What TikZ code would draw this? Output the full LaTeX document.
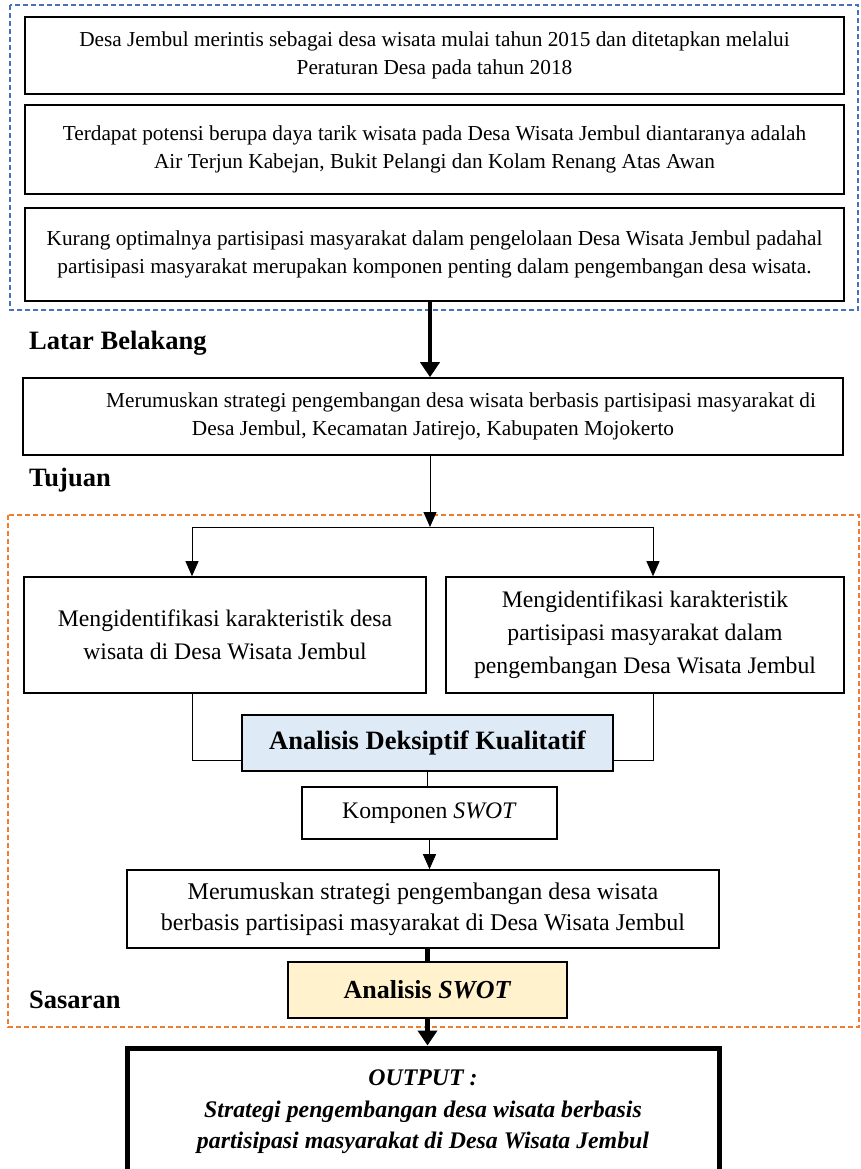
\documentclass[tikz,border=0pt]{standalone}
\usepackage{fontspec}
\setmainfont{Liberation Serif}
\usetikzlibrary{arrows.meta}
\definecolor{frameblue}{HTML}{4472C4}
\definecolor{frameorange}{HTML}{ED7D31}
\definecolor{fillblue}{HTML}{DEEAF6}
\definecolor{fillyellow}{HTML}{FFF2CC}
\begin{document}
\begin{tikzpicture}[x=1pt,y=-1pt,
  box/.style={draw, line width=1.6pt, inner sep=0pt, align=center},
  txtA/.style={font=\fontsize{21.3}{27.5}\selectfont},
  txtB/.style={font=\fontsize{23.7}{33}\selectfont},
  lab/.style={font=\fontsize{26.5}{30}\selectfont\bfseries, anchor=west, inner sep=0pt},
  thin/.style={line width=0.9pt},
  thinarrow/.style={line width=0.9pt, -{Triangle[width=13pt,length=15pt]}},
  thickarrow/.style={line width=4.5pt, -{Triangle[width=19pt,length=15pt]}},
  dashframe/.style={line width=1.8pt, dash pattern=on 5pt off 3pt}
]
\useasboundingbox (0,0) rectangle (861,1169);
% blue frame
\draw[dashframe, frameblue] (10,5) rectangle (858,310);
% orange frame
\draw[dashframe, frameorange] (8,515) rectangle (859,1027);

\node[box, txtA, minimum width=819pt, minimum height=77pt] (b1) at (434.5,55.5)
  {Desa Jembul merintis sebagai desa wisata mulai tahun 2015 dan ditetapkan melalui\\Peraturan Desa pada tahun 2018};
\node[box, txtA, minimum width=819pt, minimum height=89pt] (b2) at (434.5,149.5)
  {Terdapat potensi berupa daya tarik wisata pada Desa Wisata Jembul diantaranya adalah\\Air Terjun Kabejan, Bukit Pelangi dan Kolam Renang Atas Awan};
\node[box, txtA, minimum width=819pt, minimum height=93pt] (b3) at (434.5,254.5)
  {Kurang optimalnya partisipasi masyarakat dalam pengelolaan Desa Wisata Jembul padahal\\partisipasi masyarakat merupakan komponen penting dalam pengembangan desa wisata.};

\node[lab] (lb) at (29,343) {Latar Belakang};

\node[box, txtA, minimum width=820pt, minimum height=77pt] (tuj) at (433,416.5)
  {\hspace*{56pt}Merumuskan strategi pengembangan desa wisata berbasis partisipasi masyarakat di\\Desa Jembul, Kecamatan Jatirejo, Kabupaten Mojokerto};

\node[lab] (lt) at (29,480) {Tujuan};

\node[box, txtB, minimum width=402pt, minimum height=116pt] (left) at (225,635)
  {Mengidentifikasi karakteristik desa\\wisata di Desa Wisata Jembul};
\node[box, txtB, minimum width=398pt, minimum height=116pt] (right) at (645,635)
  {Mengidentifikasi karakteristik\\partisipasi masyarakat dalam\\pengembangan Desa Wisata Jembul};

\node[box, fill=fillblue, font=\fontsize{26.5}{30}\selectfont\bfseries, minimum width=371pt, minimum height=56pt] (adk) at (427.5,743)
  {Analisis Deksiptif Kualitatif};
\node[box, txtB, minimum width=255pt, minimum height=52pt] (komp) at (429.5,813)
  {Komponen \textit{SWOT}};
\node[box, font=\fontsize{24}{31}\selectfont, minimum width=592pt, minimum height=78pt] (mer) at (423,909)
  {Merumuskan strategi pengembangan desa wisata\\berbasis partisipasi masyarakat di Desa Wisata Jembul};
\node[box, fill=fillyellow, font=\fontsize{26}{30}\selectfont\bfseries, minimum width=279pt, minimum height=56pt] (swot) at (427.5,990)
  {Analisis \textit{SWOT}};

\node[lab] (ls) at (29,1000) {Sasaran};

\node[draw, line width=5pt, minimum width=592pt, minimum height=160pt, inner sep=0pt] (out) at (423,1128) {};
\node[align=center, font=\fontsize{23.8}{31.5}\selectfont\bfseries\itshape, inner sep=0pt] (outtxt) at (423,1112)
  {OUTPUT :\\Strategi pengembangan desa wisata berbasis\\partisipasi masyarakat di Desa Wisata Jembul};

% connectors
\draw[thickarrow] ([xshift=-4.5pt]b3.south) -- ([xshift=-3pt]tuj.north);
\coordinate (split) at (430,527);
\coordinate (sl) at (192,527);
\coordinate (sr) at (653,527);
\draw[thinarrow] ([xshift=-3pt]tuj.south) -- (split);
\draw[thin] (sl) -- (sr);
\draw[thinarrow] (sl) -- (sl |- left.north);
\draw[thinarrow] (sr) -- (sr |- right.north);
\draw[thin] (sl |- left.south) |- ([yshift=-17pt]adk.west);
\draw[thin] (sr |- right.south) |- ([yshift=-17pt]adk.east);
\draw[thin] (adk.south) -- (adk.south |- komp.north);
\draw[thinarrow] (komp.south) -- (komp.south |- mer.north);
\draw[line width=4.5pt] (mer.south -| swot.north) -- (swot.north);
\draw[thickarrow] (swot.south) -- (swot.south |- out.north);
\end{tikzpicture}
\end{document}
